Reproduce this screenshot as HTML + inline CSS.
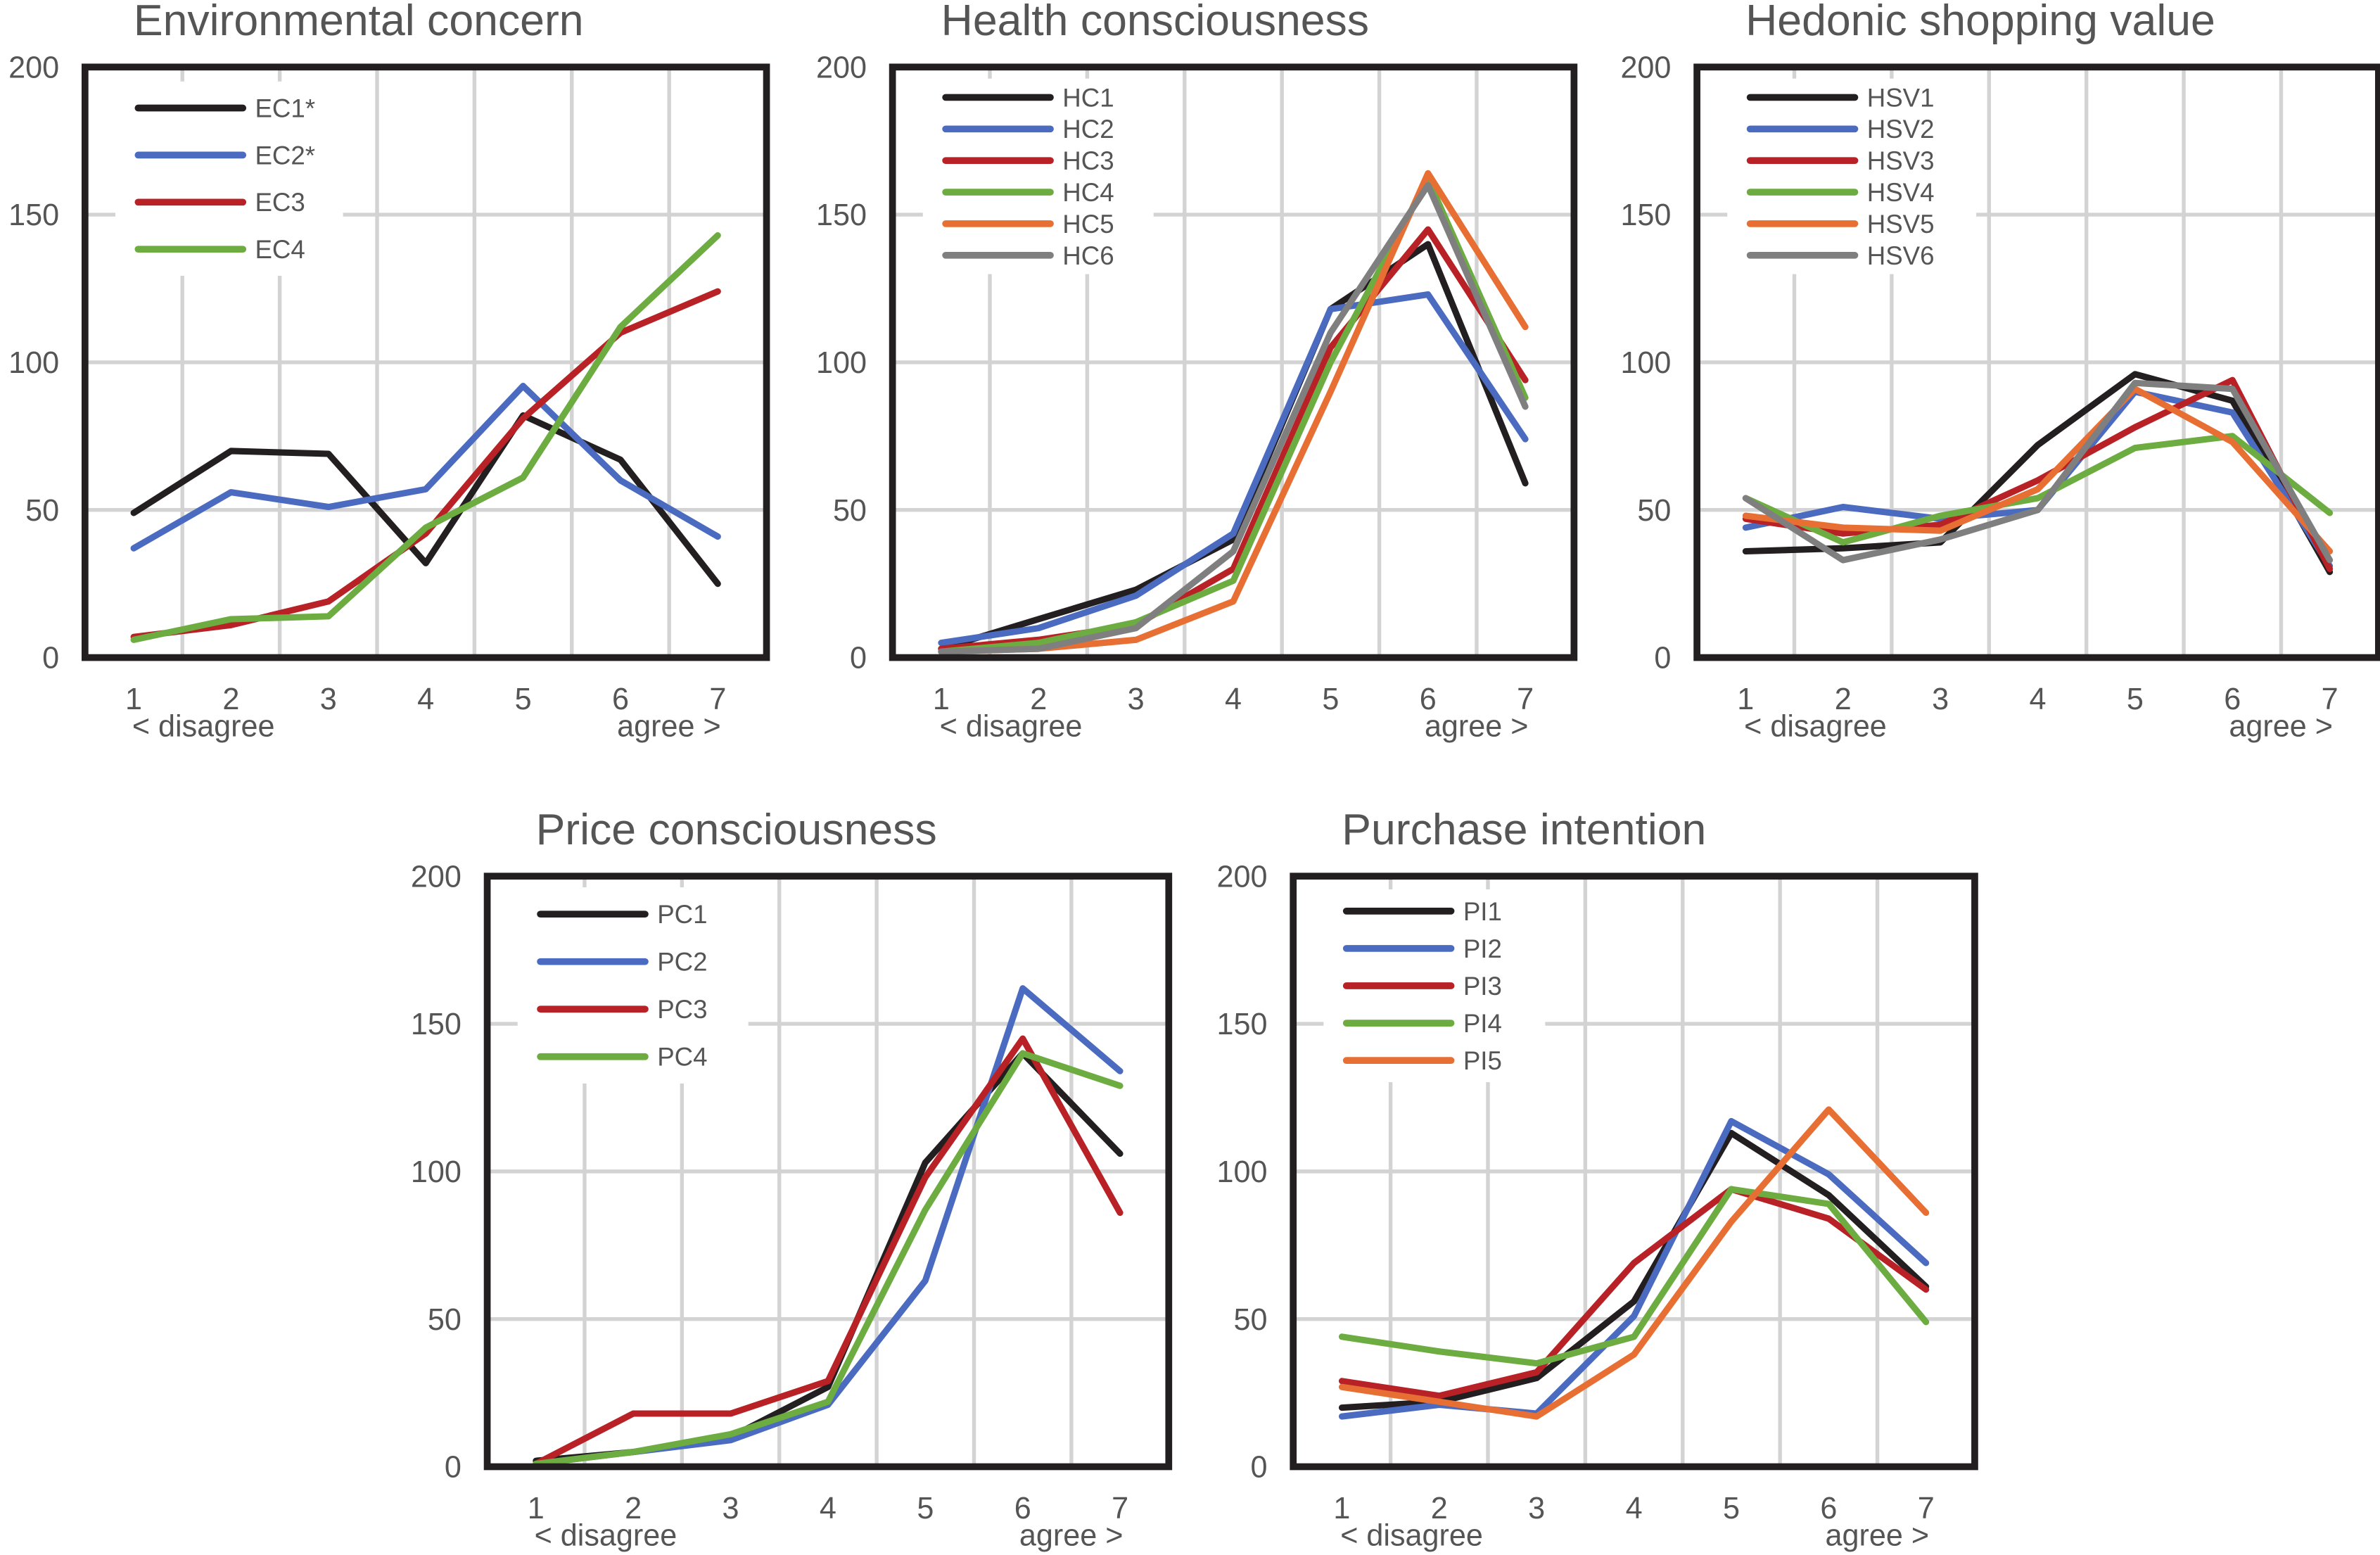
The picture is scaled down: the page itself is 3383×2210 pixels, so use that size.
<!DOCTYPE html>
<html><head><meta charset="utf-8"><style>
html,body{margin:0;padding:0;background:#fff;}
svg{display:block;font-family:"Liberation Sans",Arial,sans-serif;}
</style></head><body>
<svg id="fig" width="3383" height="2210" viewBox="0 0 1568 1024" xmlns="http://www.w3.org/2000/svg"></svg>
<script>
const categories = [1,2,3,4,5,6,7];
const yTicks = [0,50,100,150,200];
const COLORS = ["#231f20","#4a6bbf","#b82126","#6dac41","#e86f33","#7f7f7f"];

const ecNames = ["EC1*","EC2*","EC3","EC4"];
const ec1 = [49,70,69,32,82,67,25];
const ec2 = [37,56,51,57,92,60,41];
const ec3 = [7,11,19,42,81,110,124];
const ec4 = [6,13,14,44,61,112,143];

const hcNames = ["HC1","HC2","HC3","HC4","HC5","HC6"];
const hc1 = [3,13,23,40,118,140,59];
const hc2 = [5,10,21,42,118,123,74];
const hc3 = [3,6,11,30,105,145,94];
const hc4 = [2,5,12,26,100,162,88];
const hc5 = [2,3,6,19,90,164,112];
const hc6 = [2,3,10,36,110,160,85];

const hsvNames = ["HSV1","HSV2","HSV3","HSV4","HSV5","HSV6"];
const hsv1 = [36,37,39,72,96,87,29];
const hsv2 = [44,51,47,50,90,83,31];
const hsv3 = [47,42,45,60,78,94,30];
const hsv4 = [54,39,48,54,71,75,49];
const hsv5 = [48,44,43,57,91,73,36];
const hsv6 = [54,33,40,50,93,91,33];

const pcNames = ["PC1","PC2","PC3","PC4"];
const pc1 = [2,5,10,27,103,140,106];
const pc2 = [1,5,9,21,63,162,134];
const pc3 = [1,18,18,29,98,145,86];
const pc4 = [1,5,11,22,87,140,129];

const piNames = ["PI1","PI2","PI3","PI4","PI5"];
const pi1 = [20,22,30,56,113,92,61];
const pi2 = [17,21,18,51,117,99,69];
const pi3 = [29,24,32,69,94,84,60];
const pi4 = [44,39,35,44,94,89,49];
const pi5 = [27,22,17,38,83,121,86];

const NS="http://www.w3.org/2000/svg";
const svg=document.getElementById('fig');
function mk(tag,attrs,parent){const e=document.createElementNS(NS,tag);for(const k in attrs)e.setAttribute(k,attrs[k]);(parent||svg).appendChild(e);return e;}

const panels=[
 {key:"environmental-concern",title:"Environmental concern",x0:56,y0:44,names:ecNames,series:[ec1,ec2,ec3,ec4],legStep:31,legY:71,legW:110},
 {key:"health-consciousness",title:"Health consciousness",x0:588,y0:44,names:hcNames,series:[hc1,hc2,hc3,hc4,hc5,hc6],legStep:20.8,legY:64,legW:112},
 {key:"hedonic-shopping-value",title:"Hedonic shopping value",x0:1118,y0:44,names:hsvNames,series:[hsv1,hsv2,hsv3,hsv4,hsv5,hsv6],legStep:20.8,legY:64,legW:124},
 {key:"price-consciousness",title:"Price consciousness",x0:321,y0:577,names:pcNames,series:[pc1,pc2,pc3,pc4],legStep:31.3,legY:602,legW:112},
 {key:"purchase-intention",title:"Purchase intention",x0:852,y0:577,names:piNames,series:[pi1,pi2,pi3,pi4,pi5],legStep:24.6,legY:600,legW:106}
];
const W=449,H=389;

panels.forEach(p=>{
  const g=mk('g',{});
  
  
  const xs=i=>p.x0+W/7*(i+0.5);
  const ys=v=>p.y0+H-v/200*H;
  const t=mk('text',{x:p.x0+32,y:p.y0-21,'font-size':29,fill:'#555'},g);t.textContent=p.title;
  
  [50,100,150].forEach(v=>{const l=mk('line',{x1:p.x0,x2:p.x0+W,y1:ys(v),y2:ys(v),stroke:'#d3d3d3','stroke-width':2.5},g);
    });
  for(let i=1;i<7;i++){const x=p.x0+W/7*i;const l=mk('line',{x1:x,x2:x,y1:p.y0,y2:p.y0+H,stroke:'#d3d3d3','stroke-width':2.5},g);
    }
  const n=p.names.length;
  const lb=mk('rect',{x:p.x0+20,y:p.legY-p.legStep/2-2,width:p.legW+40,height:n*p.legStep+4,fill:'#fff'},g);
  
  yTicks.forEach(v=>{const tt=mk('text',{x:p.x0-17,y:ys(v)+7,'font-size':20,fill:'#555','text-anchor':'end'},g);tt.textContent=v;
    });
  categories.forEach((c,i)=>{const tt=mk('text',{x:xs(i),y:p.y0+H+34,'font-size':20,fill:'#555','text-anchor':'middle'},g);tt.textContent=c;
    });
  const d=mk('text',{x:xs(0)-1,y:p.y0+H+52,'font-size':20,fill:'#555'},g);d.textContent='<  disagree';
  
  const a=mk('text',{x:xs(6)+2,y:p.y0+H+52,'font-size':20,fill:'#555','text-anchor':'end'},g);a.textContent='agree  >';
  
  p.series.forEach((s,k)=>{
    const pts=s.map((v,i)=>xs(i).toFixed(1)+','+ys(v).toFixed(1)).join(' ');
    const pl=mk('polyline',{points:pts,fill:'none',stroke:COLORS[k],'stroke-width':4.2,'stroke-linejoin':'round','stroke-linecap':'round'},g);
    
    
  });
  p.names.forEach((nm,k)=>{
    const y=p.legY+k*p.legStep;
    const lg=mk('g',{},g);
    
    
    mk('line',{x1:p.x0+35,x2:p.x0+104,y1:y,y2:y,stroke:COLORS[k],'stroke-width':4.5,'stroke-linecap':'round'},lg);
    const lt=mk('text',{x:p.x0+112,y:y+6,'font-size':17,fill:'#555'},lg);lt.textContent=nm;
  });
  const fr=mk('rect',{x:p.x0,y:p.y0,width:W,height:H,fill:'none',stroke:'#231f20','stroke-width':4.5},g);
  
});
</script>
</body></html>
